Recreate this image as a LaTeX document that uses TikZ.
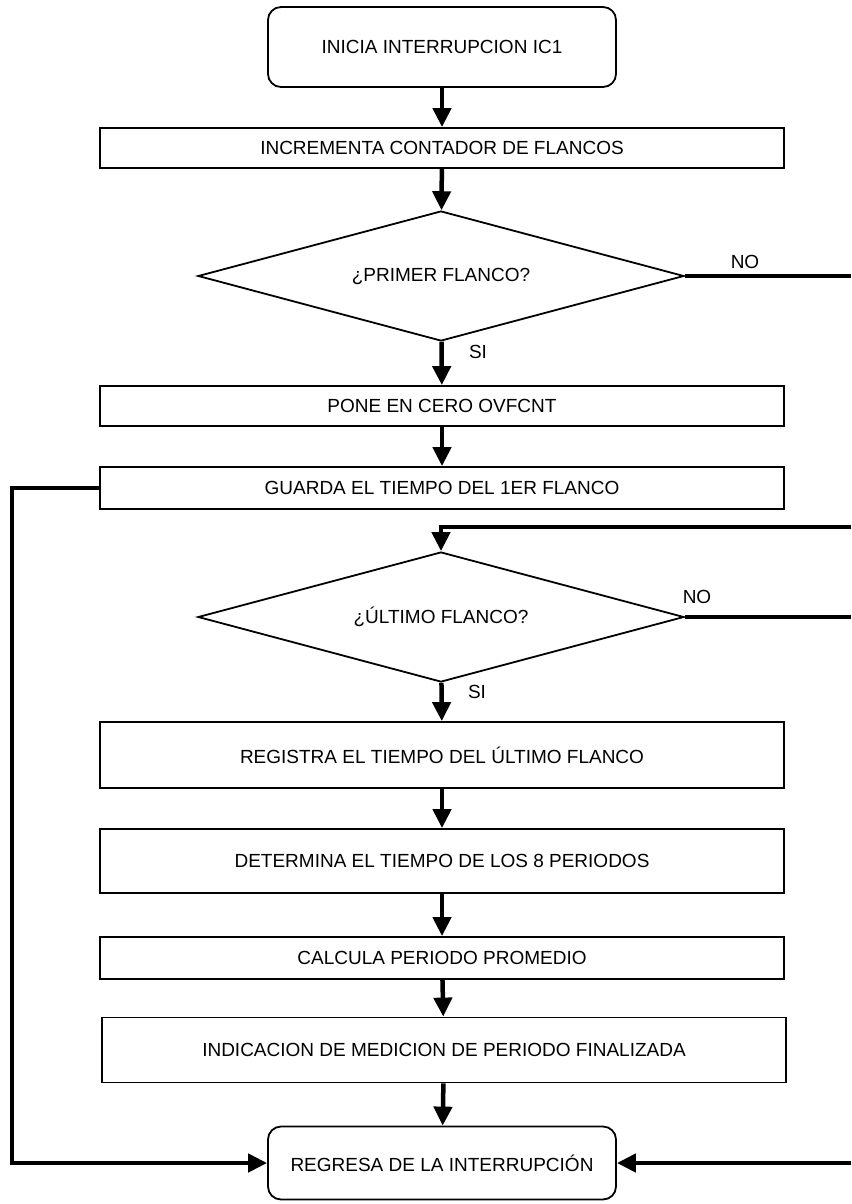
\documentclass[tikz,border=0pt]{standalone}
\usepackage{fontspec}
\setmainfont{Liberation Sans}
\usetikzlibrary{arrows.meta,shapes.geometric}

\begin{document}
\begin{tikzpicture}[x=1pt,y=-1pt,
  txt/.style={font=\fontsize{19}{22}\selectfont},
  box/.style={txt, draw, line width=1.8pt, inner sep=0pt, minimum width=684pt},
  term/.style={box, rounded corners=13pt, minimum width=348pt},
  dec/.style={txt, draw, diamond, line width=1.8pt, inner sep=0pt, aspect=3.74,
              minimum width=486pt, minimum height=130pt},
  lbl/.style={txt, inner sep=0pt},
  link/.style={line width=4.5pt},
  flow/.style={link, -{Triangle[length=19pt,width=18pt]}}]
\useasboundingbox (0,0) rectangle (851,1204);

% process steps
\node[term, minimum height=80pt] (start) at (442,47)   {INICIA INTERRUPCION IC1};
\node[box,  minimum height=40pt] (b2)    at (442,148)  {INCREMENTA CONTADOR DE FLANCOS};
\node[dec]                       (d1)    at (441,276)  {¿PRIMER FLANCO?};
\node[box,  minimum height=40pt] (b3)    at (442,406)  {PONE EN CERO OVFCNT};
\node[box,  minimum height=42pt] (b4)    at (442,488)  {GUARDA EL TIEMPO DEL 1ER FLANCO};
\node[dec]                       (d2)    at (441,617)  {¿ÚLTIMO FLANCO?};
\node[box,  minimum height=66pt] (b5)    at (442,755)  {REGISTRA EL TIEMPO DEL ÚLTIMO FLANCO};
\node[box,  minimum height=64pt] (b6)    at (442,861)  {DETERMINA EL TIEMPO DE LOS 8 PERIODOS};
\node[box,  minimum height=42pt] (b7)    at (442,958)  {CALCULA PERIODO PROMEDIO};
\node[box,  minimum height=65pt] (b8)    at (444,1050) {INDICACION DE MEDICION DE PERIODO FINALIZADA};
\node[term, minimum height=73pt] (end)   at (442,1163) {REGRESA DE LA INTERRUPCIÓN};

% branch labels
\node[lbl] (no1) at (745,262) {NO};
\node[lbl] (si1) at (478,352) {SI};
\node[lbl] (no2) at (697,597) {NO};
\node[lbl] (si2) at (477,692) {SI};

% off-page ends of the side connectors
\coordinate (r1) at (851,276);
\coordinate (r2) at (851,617);
\coordinate (r3) at (851,527);
\coordinate (r4) at (851,1163);
\coordinate (l1) at (12,1163);

% main flow
\draw[flow] (start) -- (b2);
\draw[flow] (b2) -- (d1);
\draw[flow] (d1) -- (b3);
\draw[flow] (b3) -- (b4);
\draw[flow] (d2) -- (b5);
\draw[flow] (b5) -- (b6);
\draw[flow] (b6) -- (b7);
\draw[flow] (b7) -- (b8);
\draw[flow] (b8) -- (end);

% side connectors
\draw[link] (d1.east) -- (r1);
\draw[link] (d2.east) -- (r2);
\draw[flow] (r3) -| (d2.north);
\draw[flow] (r4) -- (end.east);
\draw[flow] (b4.west) -| (l1) -- (end.west);
\end{tikzpicture}
\end{document}
